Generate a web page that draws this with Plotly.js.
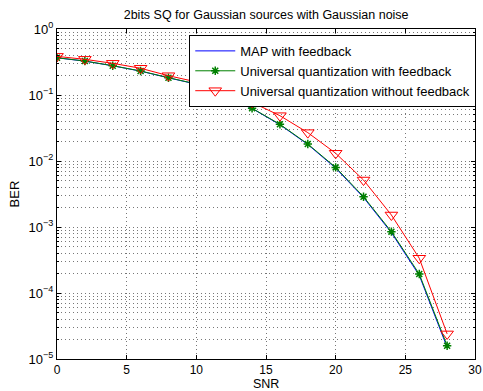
<!DOCTYPE html>
<html>
<head>
<meta charset="utf-8">
<script src="https://cdn.plot.ly/plotly-3.0.1.min.js"></script>
<style>html,body{margin:0;padding:0;background:#fff;}#chart{width:483px;height:391px;}</style>
</head>
<body>
<div id="chart"></div>
<script>
const snr = [0, 2, 4, 6, 8, 10, 12, 14, 16, 18, 20, 22, 24, 26, 28];
const berMap = [0.366, 0.326, 0.277, 0.230, 0.182, 0.146, 0.0960, 0.0625, 0.0355, 0.0178, 0.0078, 0.00280, 0.00082, 0.000185, 0.0000150];
const berUniFb = [0.367, 0.327, 0.278, 0.231, 0.183, 0.147, 0.0966, 0.0630, 0.0360, 0.0181, 0.0080, 0.00288, 0.00085, 0.000194, 0.0000159];
const berUniNoFb = [0.385, 0.347, 0.302, 0.254, 0.196, 0.158, 0.112, 0.0775, 0.0486, 0.0269, 0.0131, 0.00515, 0.00152, 0.000336, 0.0000240];
const seriesNames = ['MAP with feedback', 'Universal quantization with feedback', 'Universal quantization without feedback'];
const yTickVals = [1, 0.1, 0.01, 0.001, 0.0001, 0.00001];
const yTickText = ['10<sup>0</sup>', '10<sup>\u22121</sup>', '10<sup>\u22122</sup>', '10<sup>\u22123</sup>', '10<sup>\u22124</sup>', '10<sup>\u22125</sup>'];
const xTickVals = [0, 5, 10, 15, 20, 25, 30];

const traces = [
  {x: snr, y: berMap, name: seriesNames[0], mode: 'lines', type: 'scatter',
   line: {color: 'rgb(0,0,255)', width: 1}},
  {x: snr, y: berUniFb, name: seriesNames[1], mode: 'lines+markers', type: 'scatter',
   line: {color: 'rgb(0,128,0)', width: 1},
   marker: {symbol: 'asterisk-open', size: 7, color: 'rgb(0,128,0)', line: {color: 'rgb(0,128,0)', width: 1.5}}},
  {x: snr, y: berUniNoFb, name: seriesNames[2], mode: 'lines+markers', type: 'scatter',
   line: {color: 'rgb(255,0,0)', width: 1},
   marker: {symbol: 'triangle-down-open', size: 11, color: 'rgb(255,0,0)', line: {color: 'rgb(255,0,0)', width: 1}}}
];

const gridCol = '#777';
const gridDash = '1px,3px';
const layout = {
  width: 483, height: 391,
  margin: {l: 57, r: 8, t: 29, b: 32, pad: 0, autoexpand: false},
  paper_bgcolor: '#fff', plot_bgcolor: '#fff',
  font: {family: 'Liberation Sans, Arial, sans-serif', size: 13, color: '#000'},
  title: {text: '2bits SQ for Gaussian sources with Gaussian noise', font: {size: 12.5, color: '#000'},
          x: 0.551, xanchor: 'center', y: 0.963, yanchor: 'middle'},
  showlegend: true,
  legend: {x: 1.003, xanchor: 'right', y: 0.982, yanchor: 'top', bgcolor: '#fff',
           bordercolor: '#000', borderwidth: 1, font: {size: 13, color: '#000'},
           tracegroupgap: 0, itemwidth: 40},
  annotations: [{text: 'SNR', xref: 'paper', yref: 'paper', x: 0.5, y: -0.075,
                 xanchor: 'center', yanchor: 'middle', showarrow: false, font: {size: 12.5, color: '#000'}}],
  xaxis: {range: [0, 30], tickvals: xTickVals, ticks: 'inside', ticklen: 4, tickcolor: '#000',
          showline: true, linecolor: '#000', linewidth: 1, mirror: 'ticks',
          showgrid: true, gridcolor: gridCol, griddash: gridDash, gridwidth: 1, zeroline: false,
          automargin: false, tickfont: {size: 12}},
  yaxis: {type: 'log', range: [-5, 0], tickvals: yTickVals, ticktext: yTickText,
          ticks: 'inside', ticklen: 4, tickcolor: '#000',
          showline: true, linecolor: '#000', linewidth: 1, mirror: 'ticks',
          showgrid: true, gridcolor: gridCol, griddash: gridDash, gridwidth: 1, zeroline: false,
          automargin: false,
          minor: {dtick: 'D1', showgrid: true, gridcolor: gridCol, griddash: gridDash, gridwidth: 1,
                  ticks: 'inside', ticklen: 2, tickcolor: '#000'},
          tickfont: {size: 13}, title: {text: 'BER', font: {size: 13}, standoff: 6}}
};

Plotly.newPlot('chart', traces, layout, {displayModeBar: false, staticPlot: true});
</script>
</body>
</html>
